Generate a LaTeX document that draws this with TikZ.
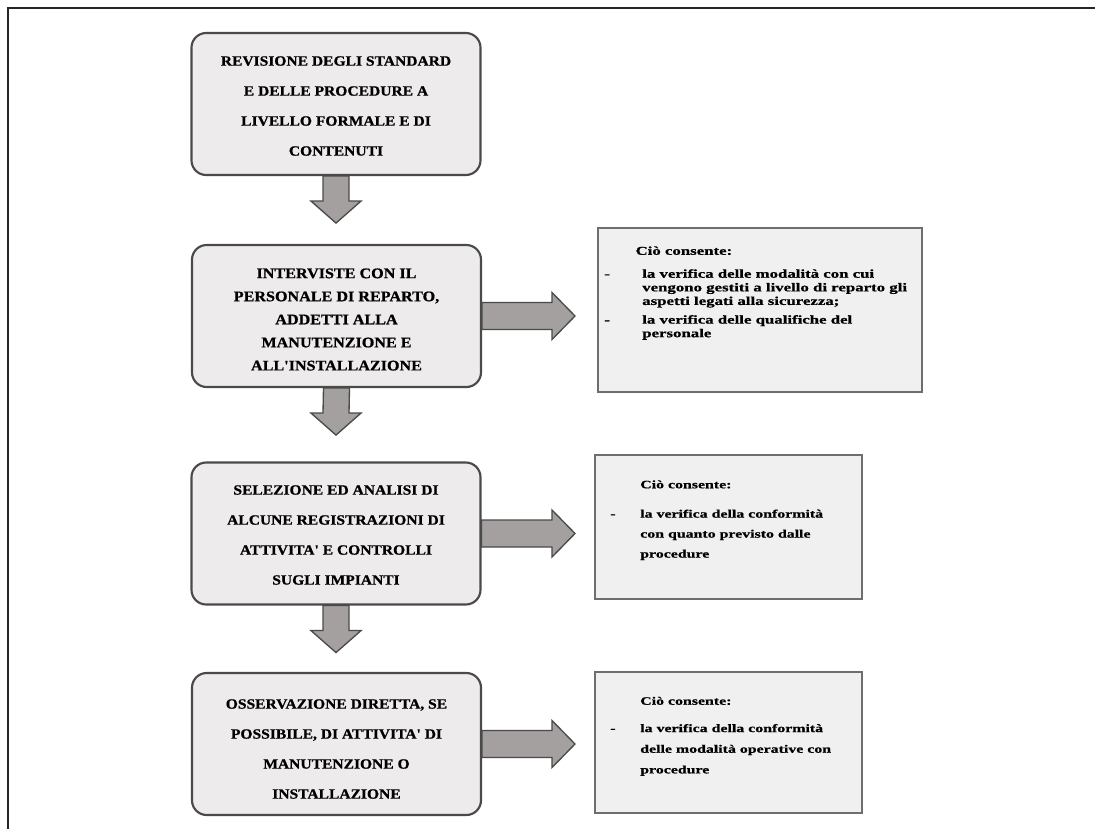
\documentclass[tikz,border=0pt]{standalone}
\usepackage{fontspec}
\setmainfont{Liberation Serif}
\newfontfamily\boxfont[FakeStretch=1.1,FakeBold=0.8]{Liberation Serif}
\newfontfamily\notefont[FakeStretch=1.4,FakeBold=0.8]{Liberation Serif}
\usetikzlibrary{calc}
\definecolor{boxfill}{HTML}{EDEBEB}
\definecolor{notefill}{HTML}{F1F0F0}
\definecolor{boxline}{HTML}{4A4A4A}
\definecolor{noteline}{HTML}{6E6E6E}
\definecolor{arrowfill}{HTML}{A3A09F}
\newcommand\downblock[2]{%
  \draw[barrow] ($(#1)+(-13,0)$) -- ($(#2)+(-13,-22)$) -- ($(#2)+(-25,-22)$) -- (#2)
    -- ($(#2)+(25,-22)$) -- ($(#2)+(13,-22)$) -- ($(#1)+(13,0)$) -- cycle;}
\newcommand\rightblock[2]{%
  \draw[barrow] ($(#1)+(0,-13.5)$) -- ($(#2)+(-23,-13.5)$) -- ($(#2)+(-23,-23.5)$) -- (#2)
    -- ($(#2)+(-23,23.5)$) -- ($(#2)+(-23,13.5)$) -- ($(#1)+(0,13.5)$) -- cycle;}
\begin{document}
\begin{tikzpicture}[x=0.75pt,y=-0.75pt,
  lbox/.style={draw=boxline, line width=1.6pt, fill=boxfill, rounded corners=11pt,
    minimum width=216.75pt, minimum height=106.5pt, inner sep=0pt},
  ltext/.style={align=center, inner sep=0pt, font=\boxfont\bfseries\fontsize{10.6}{22.5}\selectfont},
  nbox/.style={draw=noteline, line width=1.4pt, fill=notefill, inner sep=0pt},
  ntext/.style={anchor=north west, inner sep=0pt, align=left},
  barrow/.style={draw=boxline, line width=1pt, fill=arrowfill, line join=miter}]
\useasboundingbox (0,0) rectangle (1095,829);
\fill[white] (0,0) rectangle (1095,829);
\draw[line width=1.2pt, black!85] (8,829) -- (8,8) -- (1095,8);

% left boxes
\node[lbox] (b1) at (336,104) {};
\node[ltext] (b1t) at (336,106) {REVISIONE DEGLI STANDARD\\E DELLE PROCEDURE A\\LIVELLO FORMALE E DI\\CONTENUTI};
\node[lbox] (b2) at (336.5,316) {};
\node[ltext, font=\boxfont\bfseries\fontsize{11}{17.3}\selectfont] (b2t) at (336.5,319.5)
  {INTERVISTE CON IL\\PERSONALE DI REPARTO,\\ADDETTI ALLA\\MANUTENZIONE E\\ALL'INSTALLAZIONE};
\node[lbox] (b3) at (336,533.5) {};
\node[ltext] (b3t) at (336,535) {SELEZIONE ED ANALISI DI\\ALCUNE REGISTRAZIONI DI\\ATTIVITA' E CONTROLLI\\SUGLI IMPIANTI};
\node[lbox] (b4) at (336.5,744) {};
\node[ltext] (b4t) at (336.5,749) {OSSERVAZIONE DIRETTA, SE\\POSSIBILE, DI ATTIVITA' DI\\MANUTENZIONE O\\INSTALLAZIONE};

% right boxes
\node[nbox, minimum width=243pt, minimum height=123pt] (r1) at (760,310) {};
\node[ntext] (r1t) at (604,245) {\notefont\bfseries\fontsize{9}{10.2}\selectfont
  \begin{tabular}{@{}p{28.5pt}@{}l@{}}
   & \hspace*{-5pt}Ciò consente:\\[7pt]
  - & la verifica delle modalità con cui\\
   & vengono gestiti a livello di reparto gli\\
   & aspetti legati alla sicurezza;\\[3.8pt]
  - & la verifica delle qualifiche del\\
   & personale
  \end{tabular}};
\node[nbox, minimum width=200.25pt, minimum height=108pt] (r2) at (728.5,527) {};
\node[ntext] (r2t) at (610,474) {\notefont\bfseries\fontsize{8.5}{15}\selectfont
  \begin{tabular}{@{}p{22.5pt}@{}l@{}}
   & Ciò consente:\\[7pt]
  - & la verifica della conformità\\
   & con quanto previsto dalle\\
   & procedure
  \end{tabular}};
\node[nbox, minimum width=200.25pt, minimum height=105.75pt] (r3) at (728.5,742.5) {};
\node[ntext] (r3t) at (610,690) {\notefont\bfseries\fontsize{8.5}{15.5}\selectfont
  \begin{tabular}{@{}p{22.5pt}@{}l@{}}
   & Ciò consente:\\[5pt]
  - & la verifica della conformità\\
   & delle modalità operative con\\
   & procedure
  \end{tabular}};

% arrow tips
\coordinate (d1) at ($(b1.south)+(0,47)$);
\coordinate (d2) at ($(b2.south)+(-0.5,47)$);
\coordinate (d3) at ($(b3.south)+(0,47)$);
\coordinate (h2) at (575,316);
\coordinate (h3) at (575,533.5);
\coordinate (h4) at (575,744);

\downblock{b1.south}{d1}
\downblock{b2.south}{d2}
\downblock{b3.south}{d3}
\rightblock{b2.east}{h2}
\rightblock{b3.east}{h3}
\rightblock{b4.east}{h4}
\end{tikzpicture}
\end{document}
